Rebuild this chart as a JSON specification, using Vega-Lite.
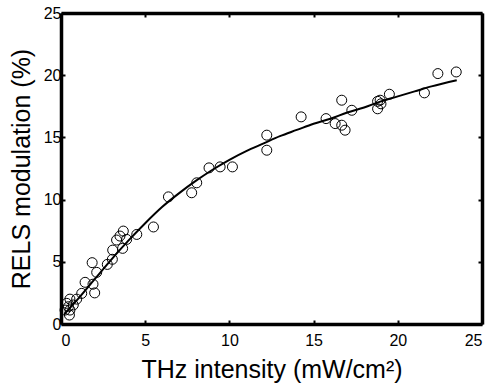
{
  "$schema": "https://vega.github.io/schema/vega-lite/v6.json",
  "width": 421,
  "height": 311,
  "autosize": {"type": "none"},
  "padding": {"left": 61, "top": 13, "right": 8, "bottom": 64},
  "background": "white",
  "config": {
    "view": {"stroke": null},
    "axis": {
      "grid": false,
      "domainColor": "black",
      "domainWidth": 3.5,
      "tickColor": "black",
      "tickWidth": 2,
      "tickSize": -4,
      "labelFont": "Liberation Sans",
      "labelFontSize": 16,
      "labelColor": "black",
      "titleFont": "Liberation Sans",
      "titleFontSize": 25,
      "titleFontWeight": "normal",
      "titleColor": "black"
    }
  },
  "datasets": {
    "pts": [
      {"x": 23.47, "y": 20.26}, {"x": 22.38, "y": 20.13}, {"x": 21.58, "y": 18.58},
      {"x": 19.5, "y": 18.47}, {"x": 18.95, "y": 17.99}, {"x": 18.8, "y": 17.9},
      {"x": 18.8, "y": 17.3}, {"x": 19.0, "y": 17.7}, {"x": 17.27, "y": 17.18},
      {"x": 16.67, "y": 17.99}, {"x": 16.67, "y": 15.98}, {"x": 16.87, "y": 15.58},
      {"x": 16.28, "y": 16.11}, {"x": 15.74, "y": 16.51}, {"x": 14.26, "y": 16.65},
      {"x": 12.22, "y": 15.18}, {"x": 12.22, "y": 13.97}, {"x": 10.18, "y": 12.63},
      {"x": 9.45, "y": 12.63}, {"x": 8.79, "y": 12.55}, {"x": 8.06, "y": 11.35},
      {"x": 7.76, "y": 10.55}, {"x": 6.38, "y": 10.22}, {"x": 5.49, "y": 7.8},
      {"x": 4.5, "y": 7.2}, {"x": 3.9, "y": 6.8}, {"x": 3.7, "y": 7.47},
      {"x": 3.5, "y": 7.07}, {"x": 3.3, "y": 6.75}, {"x": 3.66, "y": 6.08},
      {"x": 3.07, "y": 5.94}, {"x": 3.05, "y": 5.2}, {"x": 2.75, "y": 4.79},
      {"x": 2.12, "y": 4.15}, {"x": 1.85, "y": 4.93}, {"x": 2.0, "y": 2.5},
      {"x": 1.9, "y": 3.2}, {"x": 1.43, "y": 3.35}, {"x": 1.23, "y": 2.46},
      {"x": 0.93, "y": 2.0}, {"x": 0.73, "y": 1.53}, {"x": 0.53, "y": 1.12},
      {"x": 0.34, "y": 1.66}, {"x": 0.5, "y": 0.72}, {"x": 0.24, "y": 1.12},
      {"x": 0.53, "y": 2.0}, {"x": 0.44, "y": 1.39}
    ],
    "fit": [
      {"x": 0.2, "y": 0.8}, {"x": 1, "y": 2.0}, {"x": 2, "y": 3.6},
      {"x": 3, "y": 5.2}, {"x": 4, "y": 6.7}, {"x": 5, "y": 8.1},
      {"x": 6, "y": 9.4}, {"x": 7, "y": 10.5}, {"x": 8, "y": 11.5},
      {"x": 9, "y": 12.4}, {"x": 10, "y": 13.2}, {"x": 11, "y": 13.9},
      {"x": 12, "y": 14.5}, {"x": 13, "y": 15.1}, {"x": 14, "y": 15.6},
      {"x": 15, "y": 16.1}, {"x": 16, "y": 16.5}, {"x": 17, "y": 17.0},
      {"x": 18, "y": 17.4}, {"x": 19, "y": 17.9}, {"x": 20, "y": 18.3},
      {"x": 21, "y": 18.7}, {"x": 22, "y": 19.1}, {"x": 23.5, "y": 19.6}
    ]
  },
  "layer": [
    {
      "data": {"name": "pts"},
      "mark": {"type": "point", "shape": "circle", "filled": false, "stroke": "black", "strokeWidth": 1, "size": 100, "opacity": 1},
      "encoding": {
        "x": {"field": "x", "type": "quantitative", "scale": {"domain": [0, 25], "nice": false},
              "axis": {"orient": "bottom", "values": [0, 5, 10, 15, 20, 25], "title": "THz intensity (mW/cm²)", "labelPadding": 12, "titlePadding": 9}},
        "y": {"field": "y", "type": "quantitative", "scale": {"domain": [0, 25], "nice": false},
              "axis": {"orient": "left", "values": [0, 5, 10, 15, 20, 25], "title": "RELS modulation (%)", "labelPadding": 4, "titlePadding": 9}}
      }
    },
    {
      "data": {"name": "fit"},
      "mark": {"type": "line", "color": "black", "strokeWidth": 2, "interpolate": "monotone"},
      "encoding": {
        "x": {"field": "x", "type": "quantitative", "axis": {"orient": "top", "values": [0, 5, 10, 15, 20, 25], "labels": false, "title": null}},
        "y": {"field": "y", "type": "quantitative", "axis": {"orient": "right", "values": [0, 5, 10, 15, 20, 25], "labels": false, "title": null}}
      }
    }
  ],
  "resolve": {"axis": {"x": "independent", "y": "independent"}}
}
